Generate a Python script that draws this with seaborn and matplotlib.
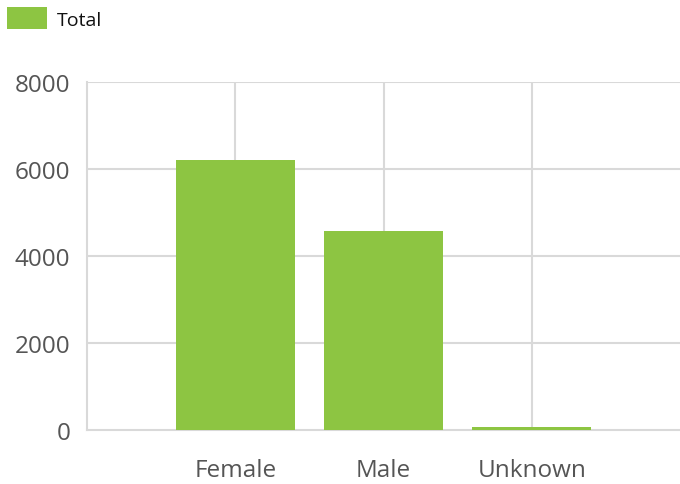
import pandas as pd
import seaborn as sns
import matplotlib.pyplot as plt

genders = ['Female', 'Male', 'Unknown']
totals = [6200, 4570, 70]

df = pd.DataFrame({'Gender': genders, 'Total': totals})

sns.set_style('white')
plt.rcParams['font.family'] = ['Open Sans', 'DejaVu Sans']

fig = plt.figure(figsize=(6.8, 4.85), dpi=100)
ax = fig.add_axes([0.128, 0.1113, 0.872, 0.7176])

grid_c = '#d9d9d9'
sns.barplot(x='Gender', y='Total', data=df, color='#8dc542', width=0.8,
            saturation=1, ax=ax, label='Total', zorder=5, linewidth=0)

ax.set_xlim(-1, 3)
ax.set_ylim(0, 8000)
ax.set_yticks([0, 2000, 4000, 6000, 8000])
ax.set_xlabel('')
ax.set_ylabel('')

# grid lines
for y in [2000, 4000, 6000, 8000]:
    ax.axhline(y, color=grid_c, lw=1.5, zorder=1)
for x in range(len(genders)):
    ax.axvline(x, color=grid_c, lw=1.5, zorder=1)

for s in ['top', 'right']:
    ax.spines[s].set_visible(False)
ax.spines['left'].set_color(grid_c)
ax.spines['bottom'].set_color(grid_c)
ax.spines['left'].set_linewidth(1.5)
ax.spines['bottom'].set_linewidth(1.5)
ax.spines['bottom'].set_zorder(4)

ax.tick_params(axis='both', length=0, labelsize=17.5, colors='#555555')
ax.tick_params(axis='y', pad=12)
ax.tick_params(axis='x', pad=20)

leg = ax.legend(loc='upper left', bbox_to_anchor=(-0.1417, 1.227), frameon=False,
                fontsize=14, handlelength=2.06, handleheight=1.4, borderaxespad=0,
                handletextpad=0.5, borderpad=0.2)
for t in leg.get_texts():
    t.set_color('#111111')

fig.savefig('out.png', dpi=100)
